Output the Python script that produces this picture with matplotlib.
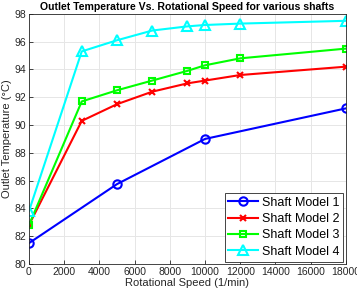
import matplotlib
matplotlib.use("Agg")
import matplotlib.pyplot as plt

plt.rcParams['font.family'] = ['Liberation Sans', 'DejaVu Sans']

speed1 = [0, 5000, 10000, 18000]
temp1 = [81.5, 85.75, 89.0, 91.2]
speed = [0, 3000, 5000, 7000, 9000, 10000, 12000, 18000]
temp2 = [82.8, 90.3, 91.5, 92.4, 93.0, 93.2, 93.6, 94.2]
temp3 = [82.8, 91.7, 92.5, 93.2, 93.9, 94.3, 94.8, 95.5]
temp4 = [83.8, 95.3, 96.1, 96.8, 97.1, 97.2, 97.3, 97.5]
labels = ['Shaft Model 1', 'Shaft Model 2', 'Shaft Model 3', 'Shaft Model 4']
xticks = list(range(0, 18001, 2000))
yticks = list(range(80, 99, 2))

fig = plt.figure(figsize=(3.57, 2.95), dpi=100)
ax = fig.add_axes([0.081, 0.105, 0.888, 0.848])

lw = 1.5
ax.plot(speed1, temp1, color='#0000ff', marker='o', ms=6, mfc='none', mew=1.5, lw=lw, label=labels[0])
ax.plot(speed, temp2, color='#ff0000', marker='x', ms=5, mew=1.5, lw=lw, label=labels[1])
ax.plot(speed, temp3, color='#00ff00', marker='s', ms=5, mfc='none', mew=1.5, lw=lw, label=labels[2])
ax.plot(speed, temp4, color='#00ffff', marker='^', ms=7, mfc='none', mew=1.5, lw=lw, label=labels[3])

ax.set_xlim(0, 18000)
ax.set_ylim(80, 98)
ax.set_xticks(xticks)
ax.set_yticks(yticks)
ax.grid(True, color='#e6e6e6', lw=0.7)
ax.set_axisbelow(True)
for s in ax.spines.values():
    s.set_color('#262626')
    s.set_linewidth(0.6)
ax.tick_params(labelsize=7.5, colors='#262626', direction='in', length=3, width=0.6, pad=2)
for lab in ax.get_xticklabels() + ax.get_yticklabels():
    lab.set_color('#262626')
ax.set_xlabel('Rotational Speed (1/min)', fontsize=8, color='#262626', labelpad=1)
ax.set_ylabel('Outlet Temperature (°C)', fontsize=8, color='#262626', labelpad=2)
ax.set_title('Outlet Temperature Vs. Rotational Speed for various shafts', fontsize=7.6, fontweight='bold', pad=3)

leg = ax.legend(loc='lower right', fontsize=9, fancybox=False, framealpha=1, borderaxespad=0.2,
                handlelength=2.4, labelspacing=0.35, borderpad=0.3, handletextpad=0.3)
leg.get_frame().set_edgecolor('#262626')
leg.get_frame().set_linewidth(0.6)

fig.savefig('out.png', dpi=100)
